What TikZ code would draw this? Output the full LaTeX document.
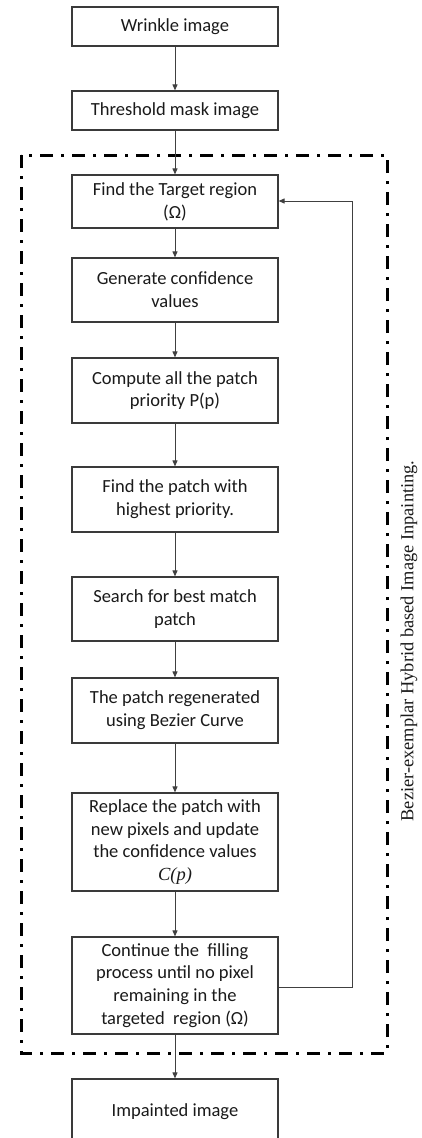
\documentclass[tikz,border=0pt]{standalone}
\usepackage{fontspec}
\setmainfont{Carlito}
\newfontfamily\timesfont{Liberation Serif}
\usetikzlibrary{arrows.meta}
\definecolor{boxline}{HTML}{3A3A3A}
\definecolor{txt}{HTML}{1A1A1A}
\definecolor{conn}{HTML}{404040}
\tikzset{
  stepbox/.style={draw=boxline, line width=1.2pt, minimum width=206pt, align=center,
    inner sep=0pt, text=txt, font=\fontsize{18.5}{22.8}\selectfont, fill=white},
  conn/.style={draw=conn, line width=1pt, -{Triangle[length=6pt,width=5pt]}},
  frame/.style={draw=black, line width=3pt, dash pattern=on 13pt off 8pt on 3pt off 8pt}
}
\begin{document}
\begin{tikzpicture}[x=1pt,y=1pt]
\clip (0,0) rectangle (421,-1138);
\fill[white] (0,0) rectangle (421,-1138);
% frame
\draw[frame] (21,-155) rectangle (387,-1053);
% boxes
\node[stepbox, minimum height=39pt] (b1) at (175,-26.5) {Wrinkle image};
\node[stepbox, minimum height=39pt] (b2) at (175,-110.5) {Threshold mask image};
\node[stepbox, minimum height=53pt] (b3) at (175,-201.5) {Find the Target region\\(Ω)};
\node[stepbox, minimum height=64pt] (b4) at (175,-290) {Generate confidence\\values};
\node[stepbox, minimum height=65pt] (b5) at (175,-390.5) {Compute all the patch\\priority P(p)};
\node[stepbox, minimum height=65pt] (b6) at (175,-499.5) {Find the patch with\\highest priority.};
\node[stepbox, minimum height=64pt] (b7) at (175,-609) {Search for best match\\patch};
\node[stepbox, minimum height=65pt] (b8) at (175,-710.5) {The patch regenerated\\using Bezier Curve};
\node[stepbox, minimum height=98pt] (b9) at (175,-842) {Replace the patch with\\new pixels and update\\the confidence values\\{\timesfont\itshape C(p)}};
\node[stepbox, minimum height=97pt] (b10) at (175,-985.5) {Continue the\ \ filling\\process until no pixel\\remaining in the\\targeted\ \ region (Ω)};
\node[stepbox, minimum height=66pt] (b11) at (175,-1112) {Impainted image};
% connectors
\draw[conn] (b1) -- (b2);
\draw[conn] (b2) -- (b3);
\draw[conn] (b3) -- (b4);
\draw[conn] (b4) -- (b5);
\draw[conn] (b5) -- (b6);
\draw[conn] (b6) -- (b7);
\draw[conn] (b7) -- (b8);
\draw[conn] (b8) -- (b9);
\draw[conn] (b9) -- (b10);
\draw[conn] (b10) -- (b11);
\coordinate (fb1) at (352,-987);
\coordinate (fb2) at (352,-201);
\draw[conn] (b10.east |- fb1) -- (fb1) -- (fb2) -- (b3.east |- fb2);
% side label
\node[rotate=90, text=txt, font=\timesfont\fontsize{18.4}{22}\selectfont] (lab) at (409,-641) {Bezier-exemplar Hybrid based Image Inpainting.};
\end{tikzpicture}
\end{document}
